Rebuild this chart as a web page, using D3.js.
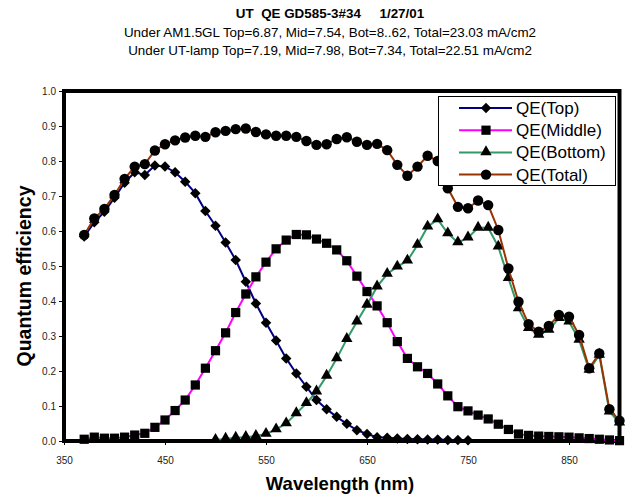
<!DOCTYPE html>
<html>
<head>
<meta charset="utf-8">
<script src="https://cdn.jsdelivr.net/npm/d3@7"></script>
<style>
  body { margin: 0; background: #fff; }
  text { font-family: "Liberation Sans", Arial, sans-serif; }
</style>
</head>
<body>
<svg id="chart" width="625" height="497"></svg>
<script>
// wavelengths (nm), measured every 10 nm
const wlTotal = d3.range(370, 901, 10);
const wlTop = d3.range(370, 751, 10);
const wlMid = d3.range(370, 901, 10);
const wlBot = d3.range(500, 901, 10);

const qeTop = [0.584, 0.625, 0.655, 0.695, 0.738, 0.768, 0.760, 0.787, 0.784, 0.768,
  0.741, 0.708, 0.657, 0.615, 0.567, 0.517, 0.455, 0.393, 0.338, 0.287,
  0.236, 0.193, 0.155, 0.117, 0.091, 0.069, 0.049, 0.031, 0.020, 0.011,
  0.009, 0.007, 0.006, 0.005, 0.004, 0.004, 0.003, 0.003, 0.002];

const qeMid = [0.005, 0.011, 0.008, 0.008, 0.011, 0.017, 0.022, 0.039, 0.060, 0.087,
  0.117, 0.160, 0.208, 0.258, 0.309, 0.367, 0.420, 0.469, 0.511, 0.549,
  0.574, 0.590, 0.589, 0.577, 0.565, 0.546, 0.515, 0.471, 0.427, 0.386,
  0.338, 0.284, 0.236, 0.212, 0.193, 0.163, 0.129, 0.098, 0.086, 0.074,
  0.063, 0.048, 0.033, 0.020, 0.016, 0.014, 0.013, 0.012, 0.011, 0.009,
  0.007, 0.005, 0.003, 0.001];

const qeBot = [0.003, 0.006, 0.009, 0.011, 0.014, 0.020, 0.033, 0.050, 0.079, 0.108,
  0.141, 0.186, 0.236, 0.291, 0.341, 0.389, 0.441, 0.477, 0.498, 0.515,
  0.560, 0.612, 0.633, 0.593, 0.567, 0.581, 0.609, 0.609, 0.555, 0.465,
  0.379, 0.322, 0.303, 0.317, 0.351, 0.341, 0.289, 0.203, 0.246, 0.084,
  0.052];

const qeTotal = [0.589, 0.636, 0.663, 0.703, 0.749, 0.784, 0.791, 0.830, 0.848, 0.859,
  0.867, 0.872, 0.869, 0.882, 0.886, 0.891, 0.893, 0.883, 0.876, 0.872,
  0.872, 0.869, 0.857, 0.846, 0.848, 0.863, 0.868, 0.855, 0.846, 0.849,
  0.831, 0.789, 0.758, 0.784, 0.815, 0.800, 0.722, 0.669, 0.665, 0.687,
  0.674, 0.603, 0.493, 0.398, 0.334, 0.312, 0.329, 0.360, 0.355, 0.303,
  0.208, 0.250, 0.091, 0.058];

const xTicks = [350, 450, 550, 650, 750, 850];
const yTicks = [0, 0.1, 0.2, 0.3, 0.4, 0.5, 0.6, 0.7, 0.8, 0.9, 1.0];

const titleLines = [
  'UT  QE GD585-3#34     1/27/01',
  'Under AM1.5GL Top=6.87, Mid=7.54, Bot=8..62, Total=23.03 mA/cm2',
  'Under UT-lamp Top=7.19, Mid=7.98, Bot=7.34, Total=22.51 mA/cm2'
];

const series = [
  { name: 'QE(Top)', wl: wlTop, qe: qeTop, color: '#000080', shape: 'diamond' },
  { name: 'QE(Middle)', wl: wlMid, qe: qeMid, color: '#ff00ff', shape: 'square' },
  { name: 'QE(Bottom)', wl: wlBot, qe: qeBot, color: '#339966', shape: 'triangle' },
  { name: 'QE(Total)', wl: wlTotal, qe: qeTotal, color: '#993300', shape: 'circle' }
];

const svg = d3.select('#chart');
const plotL = 64, plotR = 619.5, plotT = 91, plotB = 441;

const x = d3.scaleLinear().domain([350, 900]).range([plotL, plotR]);
const y = d3.scaleLinear().domain([0, 1]).range([plotB, plotT]);

svg.append('rect').attr('width', 625).attr('height', 497).attr('fill', '#fff');

// title
svg.selectAll('.title')
  .data(titleLines)
  .enter()
  .append('text')
  .attr('class', 'title')
  .attr('x', 330)
  .attr('y', (d, i) => 18 + i * 18.5)
  .attr('text-anchor', 'middle')
  .style('white-space', 'pre')
  .style('font-size', '13.4px')
  .style('font-weight', (d, i) => i === 0 ? 'bold' : 'normal')
  .text(d => d);

// axes
const yAxis = svg.append('g')
  .attr('transform', `translate(${plotL},0)`)
  .call(d3.axisLeft(y).tickValues(yTicks).tickFormat(d3.format('.1f')).tickSize(5).tickPadding(3));
const xAxis = svg.append('g')
  .attr('transform', `translate(0,${plotB})`)
  .call(d3.axisBottom(x).tickValues(xTicks).tickFormat(d3.format('d')).tickSize(4).tickPadding(12));

[yAxis, xAxis].forEach(g => {
  g.select('.domain').remove();
  g.selectAll('line').attr('stroke', '#000');
  g.selectAll('text').style('font-size', '10px').attr('fill', '#222');
});

// plot frame
svg.append('rect')
  .attr('x', plotL).attr('y', plotT)
  .attr('width', plotR - plotL).attr('height', plotB - plotT)
  .attr('fill', 'none').attr('stroke', '#000').attr('stroke-width', 4);

const symbols = {
  diamond: d3.symbol().type(d3.symbolSquare).size(55),
  square: d3.symbol().type(d3.symbolSquare).size(85),
  triangle: d3.symbol().type(d3.symbolTriangle).size(56),
  circle: d3.symbol().type(d3.symbolCircle).size(85)
};
const rot = s => s === 'diamond' ? ' rotate(45)' : (s === 'triangle' ? ' translate(0,-0.5)' : '');

const line = d3.line().x(d => x(d[0])).y(d => y(d[1]));

series.forEach(s => {
  const pts = s.wl.map((w, i) => [w, s.qe[i]]);
  svg.append('path')
    .datum(pts)
    .attr('d', line)
    .attr('fill', 'none')
    .attr('stroke', s.color)
    .attr('stroke-width', 2);
  svg.append('g')
    .selectAll('path')
    .data(pts)
    .enter()
    .append('path')
    .attr('d', symbols[s.shape])
    .attr('transform', d => `translate(${x(d[0])},${y(d[1])})` + rot(s.shape))
    .attr('fill', '#000');
});

// legend
const legend = svg.append('g');
legend.append('rect')
  .attr('x', 438.5).attr('y', 96.5).attr('width', 177).attr('height', 89)
  .attr('fill', '#fff').attr('stroke', '#000').attr('stroke-width', 1);
const rows = legend.selectAll('.row')
  .data(series)
  .enter()
  .append('g')
  .attr('transform', (d, i) => `translate(0,${108 + i * 22.2})`);
rows.append('line')
  .attr('x1', 459).attr('x2', 512)
  .attr('stroke', d => d.color).attr('stroke-width', 2);
rows.append('path')
  .attr('d', d => symbols[d.shape]())
  .attr('transform', d => 'translate(486,0)' + rot(d.shape))
  .attr('fill', '#000');
rows.append('text')
  .attr('x', 516)
  .attr('dy', '0.35em')
  .style('font-size', '17px')
  .text(d => d.name);

// axis titles
svg.append('text')
  .attr('x', 340).attr('y', 490)
  .attr('text-anchor', 'middle')
  .style('font-size', '18.5px').style('font-weight', 'bold')
  .text('Wavelength (nm)');
svg.append('text')
  .attr('transform', 'translate(31,276) rotate(-90)')
  .attr('text-anchor', 'middle')
  .style('font-size', '19.5px').style('font-weight', 'bold')
  .text('Quantum efficiency');
</script>
</body>
</html>
